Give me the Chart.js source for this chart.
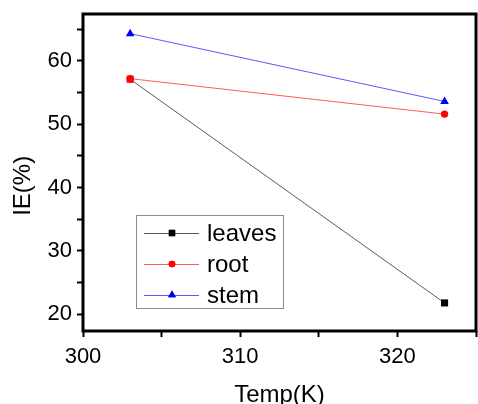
<!DOCTYPE html>
<html>
<head>
<meta charset="utf-8">
<script src="https://cdn.jsdelivr.net/npm/chart.js@4"></script>
<style>
  html, body { margin: 0; padding: 0; background: #fff; }
  #wrap { width: 478px; height: 404px; }
</style>
</head>
<body>
<div id="wrap"><canvas id="chart" width="478" height="404"></canvas></div>
<script>
// data
const temps = [303, 323];
const leaves = [57.1, 21.8];
const root = [57.2, 51.6];
const stem = [64.3, 53.6];
const seriesNames = ['leaves', 'root', 'stem'];

const FONT = '"Liberation Sans", Arial, sans-serif';

const toPoints = (ys) => temps.map((t, i) => ({ x: t, y: ys[i] }));

// frame around the plot plus the legend box inside it
const framePlugin = {
  id: 'frame',
  afterDraw(chart) {
    const { ctx, chartArea: a } = chart;
    ctx.save();
    ctx.strokeStyle = '#000';
    ctx.lineWidth = 3;
    ctx.strokeRect(a.left, a.top, a.right - a.left, a.bottom - a.top);

    // legend
    const bx = 136, by = 215, bw = 147, bh = 93;
    ctx.lineWidth = 1;
    ctx.strokeStyle = '#8c8c8c';
    ctx.strokeRect(bx + 0.5, by + 0.5, bw, bh);
    chart.data.datasets.forEach((ds, i) => {
      const y = by + 18 + i * 31;
      ctx.strokeStyle = ds.borderColor;
      ctx.lineWidth = 1;
      ctx.beginPath();
      ctx.moveTo(bx + 8, y + 0.5);
      ctx.lineTo(bx + 63, y + 0.5);
      ctx.stroke();
      ctx.fillStyle = ds.legendColor;
      ctx.beginPath();
      Chart.helpers.drawPoint(ctx, { pointStyle: ds.pointStyle, radius: ds.pointRadius * 0.9, borderWidth: 0 }, bx + 36, y);
      ctx.fill();
      ctx.fillStyle = '#000';
      ctx.font = '24px ' + FONT;
      ctx.textBaseline = 'middle';
      ctx.textAlign = 'left';
      ctx.fillText(ds.label, bx + 71, y + 1);
    });
    ctx.restore();
  }
};

new Chart(document.getElementById('chart'), {
  type: 'line',
  data: {
    datasets: [
      {
        label: seriesNames[0],
        data: toPoints(leaves),
        borderColor: '#5a5a5a',
        legendColor: '#000',
        borderWidth: 1,
        pointStyle: 'rect',
        pointRadius: 5,
        pointBackgroundColor: ['#ff0000', '#000'],
        pointBorderWidth: 0
      },
      {
        label: seriesNames[1],
        data: toPoints(root),
        borderColor: '#ff5a5a',
        legendColor: '#ff0000',
        borderWidth: 1,
        pointStyle: 'circle',
        pointRadius: 3.7,
        pointBackgroundColor: '#ff0000',
        pointBorderWidth: 0
      },
      {
        label: seriesNames[2],
        data: toPoints(stem),
        borderColor: '#5a5aff',
        legendColor: '#0000ff',
        borderWidth: 1,
        pointStyle: 'triangle',
        pointRadius: 5,
        pointBackgroundColor: '#0000ff',
        pointBorderWidth: 0
      }
    ]
  },
  options: {
    responsive: false,
    animation: false,
    layout: { autoPadding: false, padding: { top: 14, right: 2, left: 0, bottom: 0 } },
    plugins: { legend: { display: false }, tooltip: { enabled: false } },
    scales: {
      x: {
        type: 'linear',
        min: 300,
        max: 325,
        afterFit: (s) => { s.height = 73; s.paddingLeft = 0; s.paddingRight = 0; },
        border: { display: false },
        grid: { drawOnChartArea: false, tickLength: 6, tickWidth: 2, tickColor: '#000' },
        ticks: {
          stepSize: 5,
          color: '#000',
          padding: 7,
          maxRotation: 0,
          font: { family: FONT, size: 22 },
          callback: (v) => (v % 10 === 0 ? v : '')
        },
        title: {
          display: true,
          text: 'Temp(K)',
          color: '#000',
          padding: { top: 0, bottom: -3 },
          font: { family: FONT, size: 24, lineHeight: 1 }
        }
      },
      y: {
        type: 'linear',
        min: 17.37,
        max: 67.4,
        afterFit: (s) => { s.width = 83; s.paddingTop = 0; s.paddingBottom = 0; },
        border: { display: false },
        grid: { drawOnChartArea: false, tickLength: 6, tickWidth: 2, tickColor: '#000' },
        ticks: {
          stepSize: 5,
          includeBounds: false,
          color: '#000',
          padding: 5,
          font: { family: FONT, size: 22 },
          callback: (v) => (Math.round(v) % 10 === 0 ? Math.round(v) : '')
        },
        title: {
          display: true,
          text: 'IE(%)    ',
          color: '#000',
          padding: { top: 11, bottom: 0 },
          font: { family: FONT, size: 24, lineHeight: 1 }
        }
      }
    }
  },
  plugins: [framePlugin]
});
</script>
</body>
</html>
